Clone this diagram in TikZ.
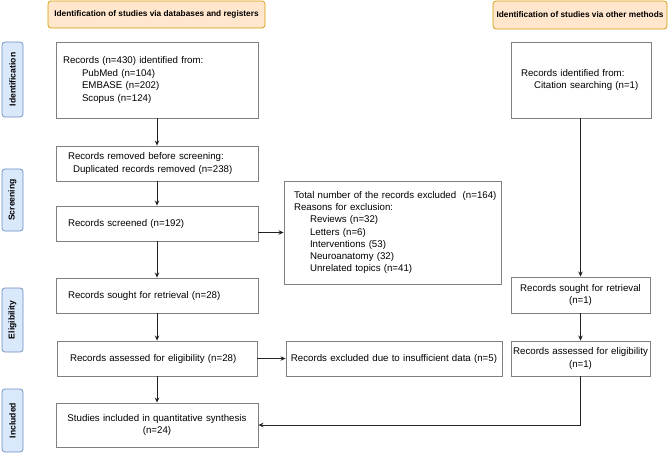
\documentclass[tikz,border=0pt]{standalone}
\usepackage{fontspec}
\setmainfont{Liberation Sans}
\usetikzlibrary{arrows.meta,calc}
\definecolor{hdrfill}{HTML}{FFE6CC}
\definecolor{hdrdraw}{HTML}{D79B00}
\definecolor{sidefill}{HTML}{DAE8FC}
\definecolor{sidedraw}{HTML}{6C8EBF}
\definecolor{boxdraw}{HTML}{808080}
\definecolor{arrcol}{HTML}{222222}
\tikzset{
  box/.style={draw=boxdraw,line width=0.9pt,inner ysep=0pt,font=\fontsize{9.7}{12.2}\selectfont},
  hdr/.style={draw=hdrdraw,fill=hdrfill,line width=0.7pt,rounded corners=3pt,inner sep=0pt,font=\bfseries\fontsize{8.3}{10}\selectfont},
  side/.style={draw=sidedraw,fill=sidefill,line width=0.7pt,rounded corners=3pt,inner sep=0pt,font=\bfseries\fontsize{8.6}{10}\selectfont},
  arr/.style={draw=arrcol,line width=0.7pt,-{Stealth[length=5pt,width=4.5pt]}}
}
\begin{document}
\begin{tikzpicture}[x=1pt,y=-1pt]
\useasboundingbox (0,0) rectangle (669,453);
% headers
\node[hdr,minimum width=217,minimum height=27] (h1) at (156.5,14.5) {Identification of studies via databases and registers};
\node[hdr,minimum width=174,minimum height=28] (h2) at (580,15) {Identification of studies via other methods};
% side labels
\node[side,minimum width=75,minimum height=21,rotate=90] (s1) at (12.5,79.5) {Identification};
\node[side,minimum width=62,minimum height=21,rotate=90] (s2) at (12.5,200) {Screening};
\node[side,minimum width=64,minimum height=21,rotate=90] (s3) at (12.5,320) {Eligibility};
\node[side,minimum width=63,minimum height=21,rotate=90] (s4) at (12.5,420.5) {Included};
% left column
\node[box,inner xsep=7,text width=188,align=left,minimum height=76,font=\fontsize{9.7}{12.8}\selectfont] (b1) at (157,80)
  {Records (n=430) identified from:\\\hspace*{19pt}PubMed (n=104)\\\hspace*{19pt}EMBASE (n=202)\\\hspace*{19pt}Scopus (n=124)};
\node[box,inner xsep=12,text width=178,align=left,minimum height=35] (b2) at (157,163.5)
  {Records removed before screening:\\\hspace*{5pt}Duplicated records removed (n=238)};
\node[box,inner xsep=12,text width=178,align=left,minimum height=35] (b3) at (157,223.5)
  {Records screened (n=192)};
\node[box,inner xsep=12,text width=178,align=left,minimum height=35] (b4) at (157,295.5)
  {Records sought for retrieval (n=28)};
\node[box,inner xsep=13,text width=174,align=left,minimum height=35] (b5) at (157,358.5)
  {\mbox{Records assessed for eligibility (n=28)}};
\node[box,inner xsep=4,text width=194,align=center,minimum height=44] (b6) at (157,425)
  {Studies included in quantitative synthesis\\(n=24)};
% middle column
\node[box,inner xsep=10,text width=197,align=left,minimum height=103] (ex) at (392.5,232.5)
  {\mbox{Total number of the records excluded~~(n=164)}\\Reasons for exclusion:\\\hspace*{16pt}Reviews (n=32)\\\hspace*{16pt}Letters (n=6)\\\hspace*{16pt}Interventions (53)\\\hspace*{16pt}Neuroanatomy (32)\\\hspace*{16pt}Unrelated topics (n=41)};
\node[box,inner xsep=2,text width=212,align=center,minimum height=35] (ins) at (394,358.5)
  {\mbox{Records excluded due to insufficient data (n=5)}};
% right column
\node[box,inner xsep=10,text width=120,align=left,minimum height=76] (r1) at (581,80)
  {Records identified from:\\\hspace*{13pt}\mbox{Citation searching (n=1)}};
\node[box,inner xsep=1,text width=137,align=center,minimum height=36] (r2) at (580.5,295)
  {Records sought for retrieval\\(n=1)};
\node[box,inner xsep=1,text width=137,align=center,minimum height=35] (r3) at (580.5,358.5)
  {\mbox{Records assessed for eligibility}\\(n=1)};
% connectors
\draw[arr] (b1) -- (b2);
\draw[arr] (b2) -- (b3);
\draw[arr] (b3) -- (b4);
\draw[arr] (b4) -- (b5);
\draw[arr] (b5) -- (b6);
\draw[arr] (b3.east |- ex.west) -- (ex.west);
\draw[arr] (b5.east) -- (ins.west);
\draw[arr] (r1.south -| r2.north) -- (r2.north);
\draw[arr] (r2) -- (r3);
\draw[arr] (r3.south) |- (b6.east);
\end{tikzpicture}
\end{document}
